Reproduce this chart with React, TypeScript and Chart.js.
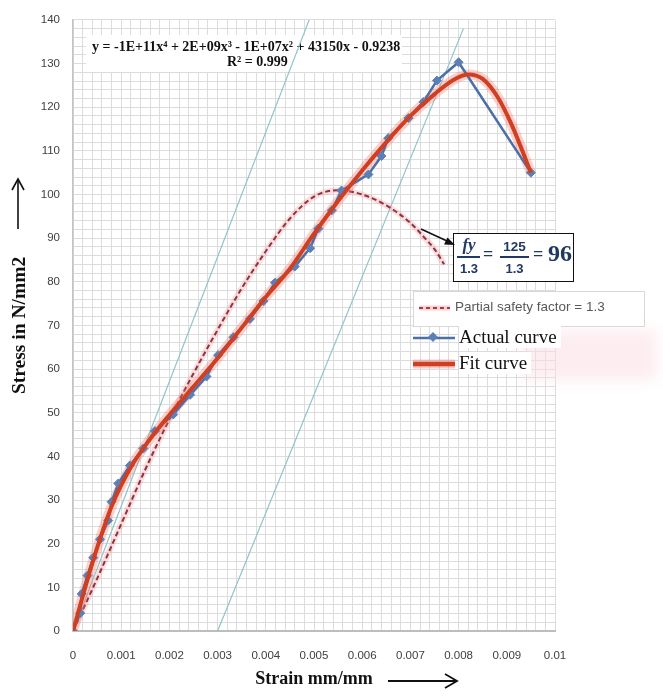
import React, { useEffect, useRef } from 'react';
import { Chart, registerables } from 'chart.js';

Chart.register(...registerables);

// ---- data ----
const actualStrain = [0, 0.00015, 0.00018, 0.0003, 0.00042, 0.00056, 0.00073, 0.0008, 0.00094, 0.00118, 0.00146, 0.0017, 0.00208, 0.00243, 0.00277, 0.00301, 0.00333, 0.00367, 0.00395, 0.00419, 0.0046, 0.00492, 0.00509, 0.00537, 0.00557, 0.00613, 0.0064, 0.00654, 0.00696, 0.00727, 0.00755, 0.008, 0.0095];
const actualStress = [0, 4.1, 8.5, 12.7, 16.8, 21, 25.3, 29.6, 33.8, 37.9, 41.8, 45.8, 49.6, 54.1, 58.3, 63.2, 67.3, 71.5, 75.6, 79.8, 83.5, 87.7, 92.2, 96.4, 100.9, 104.6, 108.8, 112.9, 117.5, 121.2, 126.1, 130.3, 105];

const fitStrain = [0, 0.0004, 0.0008, 0.0012, 0.0016, 0.002, 0.0025, 0.003, 0.0035, 0.004, 0.0045, 0.005, 0.0055, 0.006, 0.0065, 0.007, 0.0075, 0.0079, 0.0082, 0.0085, 0.0088, 0.0091, 0.0095];
const fitStress = [0, 15.5, 28.5, 37.5, 44, 49.5, 56, 62.5, 69.5, 76.5, 83, 91, 98.5, 105.5, 112, 118, 123, 126.3, 127.5, 126.5, 122.5, 116, 105];

const safetyStrain = [0, 0.0005, 0.001, 0.0015, 0.002, 0.0025, 0.003, 0.0035, 0.004, 0.0045, 0.005, 0.0055, 0.006, 0.0065, 0.007, 0.0073, 0.0075, 0.0077];
const safetyStress = [0, 12, 24.5, 37, 48.5, 59, 69, 78.5, 87, 94.5, 99.5, 101, 100, 97.5, 93.5, 90, 87.5, 84];

const offsetLeftStrain = [0, 0.0049];
const offsetLeftStress = [0, 140];
const offsetRightStrain = [0.003, 0.0081];
const offsetRightStress = [0, 138];

const xMin = 0, xMax = 0.01, xMinorStep = 0.0002, xMajorEvery = 5;
const yMin = 0, yMax = 140, yMinorStep = 2, yMajorEvery = 5;

const equationText = 'y = -1E+11x\u2074 + 2E+09x\u00B3 - 1E+07x\u00B2 + 43150x - 0.9238';
const r2Text = 'R\u00B2 = 0.999';

const pts = (xs: number[], ys: number[]) => xs.map((x, i) => ({ x, y: ys[i] }));

const SERIF = '"Liberation Serif", "Times New Roman", serif';
const SANS = '"Liberation Sans", Arial, sans-serif';

const equationPlugin = {
  id: 'equationLabel',
  beforeDatasetsDraw(chart: any) {
    const ctx = chart.ctx;
    ctx.save();
    ctx.fillStyle = '#ffffff';
    ctx.fillRect(86, 35, 316, 37);
    ctx.fillStyle = '#111111';
    ctx.font = `bold 14px ${SERIF}`;
    ctx.textBaseline = 'middle';
    ctx.textAlign = 'left';
    ctx.fillText(equationText, 92, 47);
    ctx.fillText(r2Text, 227, 62);
    ctx.restore();
  },
};

export default function App() {
  const canvasRef = useRef<HTMLCanvasElement | null>(null);

  useEffect(() => {
    if (!canvasRef.current) return;
    const chart = new Chart(canvasRef.current, {
      type: 'scatter',
      data: {
        datasets: [
          {
            label: 'Fit curve',
            data: pts(fitStrain, fitStress),
            showLine: true,
            borderColor: '#cf3f22',
            borderWidth: 4,
            pointRadius: 0,
            cubicInterpolationMode: 'monotone',
          },
          {
            label: 'Actual curve',
            data: pts(actualStrain, actualStress),
            showLine: true,
            borderColor: '#4b6fa6',
            borderWidth: 2.5,
            pointStyle: 'rectRot',
            pointRadius: 4.5,
            pointBackgroundColor: '#5b80b8',
            pointBorderColor: '#5b80b8',
            pointBorderWidth: 1,
          },
          {
            label: 'fit glow',
            data: pts(fitStrain, fitStress),
            showLine: true,
            borderColor: 'rgba(245,120,110,0.35)',
            borderWidth: 10,
            pointRadius: 0,
            cubicInterpolationMode: 'monotone',
          },
          {
            label: 'Partial safety factor = 1.3',
            data: pts(safetyStrain, safetyStress),
            showLine: true,
            borderColor: '#8e3343',
            borderWidth: 2,
            borderDash: [5, 3],
            pointRadius: 0,
            cubicInterpolationMode: 'monotone',
          },
          {
            label: 'safety glow',
            data: pts(safetyStrain, safetyStress),
            showLine: true,
            borderColor: 'rgba(250,150,150,0.3)',
            borderWidth: 6,
            pointRadius: 0,
            cubicInterpolationMode: 'monotone',
          },
          {
            label: 'offset 1',
            data: pts(offsetLeftStrain, offsetLeftStress),
            showLine: true,
            borderColor: '#8fc3cb',
            borderWidth: 1.2,
            pointRadius: 0,
          },
          {
            label: 'offset 2',
            data: pts(offsetRightStrain, offsetRightStress),
            showLine: true,
            borderColor: '#8fc3cb',
            borderWidth: 1.2,
            pointRadius: 0,
          },
        ],
      },
      options: {
        animation: false,
        responsive: false,
        devicePixelRatio: 1,
        layout: { padding: { top: 12, right: 108, left: 0, bottom: 0 } },
        plugins: { legend: { display: false }, tooltip: { enabled: false } },
        scales: {
          x: {
            type: 'linear',
            min: xMin,
            max: xMax,
            afterFit: (s: any) => { s.height = 65; },
            ticks: {
              stepSize: xMinorStep,
              autoSkip: false,
              maxRotation: 0,
              padding: 18,
              color: '#404040',
              font: { family: SANS, size: 11.5 },
              callback: (v: any) => {
                const k = Math.round(Number(v) / xMinorStep);
                return k % xMajorEvery === 0 ? String(+(k * xMinorStep).toFixed(3)) : '';
              },
            },
            grid: { color: '#dcdcdc', lineWidth: 1, drawTicks: false },
            border: { display: true, color: '#bdbdbd', width: 2 },
            title: {
              display: true,
              text: 'Strain mm/mm',
              color: '#111',
              font: { family: SERIF, size: 18, weight: 'bold' },
              padding: { top: 0, bottom: 6 },
            },
          },
          y: {
            type: 'linear',
            min: yMin,
            max: yMax,
            afterFit: (s: any) => { s.width = 73; },
            ticks: {
              stepSize: yMinorStep,
              autoSkip: false,
              padding: 13,
              color: '#404040',
              font: { family: SANS, size: 11.5 },
              callback: (v: any) => {
                const k = Math.round(Number(v) / yMinorStep);
                return k % yMajorEvery === 0 ? String(k * yMinorStep) : '';
              },
            },
            grid: { color: '#dcdcdc', lineWidth: 1, drawTicks: false },
            border: { display: true, color: '#c4c4c4', width: 1.5 },
            title: {
              display: true,
              text: 'Stress in N/mm2',
              color: '#111',
              font: { family: SERIF, size: 19.5, weight: 'bold' },
              padding: { top: 8, bottom: 0 },
            },
          },
        },
      } as any,
      plugins: [equationPlugin],
    });
    return () => chart.destroy();
  }, []);

  const navy = '#1f3864';
  const abs = (l: number, t: number, extra: any = {}) => ({ position: 'absolute' as const, left: l, top: t, ...extra });

  return (
    <div style={{ position: 'absolute', left: 0, top: 0, width: 663, height: 696, background: '#fff', overflow: 'hidden' }}>
      <canvas ref={canvasRef} width={663} height={696} style={{ position: 'absolute', left: 0, top: 0, width: 663, height: 696 }} />

      {/* faint pink smudge */}
      <div style={abs(522, 330, { width: 135, height: 50, background: 'rgba(252,222,228,0.55)', filter: 'blur(7px)' })} />

      {/* formula box */}
      <div style={abs(453, 233, { width: 121, height: 49, background: '#fff', border: '1.5px solid #111', boxSizing: 'border-box' })} />
      <div style={abs(457, 235, { width: 24, textAlign: 'center', color: navy, font: `italic bold 17px ${SERIF}` })}>fy</div>
      <div style={abs(457, 256, { width: 23, height: 1.6, background: navy })} />
      <div style={abs(457, 261, { width: 24, textAlign: 'center', color: navy, font: `bold 13px ${SANS}` })}>1.3</div>
      <div style={abs(483, 244, { color: navy, font: `bold 18px ${SERIF}` })}>=</div>
      <div style={abs(499, 239, { width: 31, textAlign: 'center', color: navy, font: `bold 13.5px ${SANS}` })}>125</div>
      <div style={abs(500, 256, { width: 29, height: 1.6, background: navy })} />
      <div style={abs(499, 261, { width: 31, textAlign: 'center', color: navy, font: `bold 13px ${SANS}` })}>1.3</div>
      <div style={abs(533, 244, { color: navy, font: `bold 18px ${SERIF}` })}>=</div>
      <div style={abs(548, 240, { color: navy, font: `bold 24px ${SERIF}` })}>96</div>

      {/* legend */}
      <div style={abs(413, 291, { width: 232, height: 36, background: '#fff', border: '1px solid #d8d8d8', boxSizing: 'border-box' })} />
      <div style={abs(455, 299, { color: '#595959', font: `13.5px ${SANS}`, whiteSpace: 'nowrap' })}>Partial safety factor = 1.3</div>
      <div style={abs(459, 326, { color: '#111', font: `19px ${SERIF}`, whiteSpace: 'nowrap', background: '#fff', paddingRight: 4 })}>Actual curve</div>
      <div style={abs(459, 352, { color: '#111', font: `19px ${SERIF}`, whiteSpace: 'nowrap', background: '#fff', paddingRight: 4 })}>Fit curve</div>

      <svg width={663} height={696} style={{ position: 'absolute', left: 0, top: 0, pointerEvents: 'none' }}>
        {/* legend samples */}
        <line x1={419} y1={308} x2={450} y2={308} stroke="rgba(250,150,150,0.45)" strokeWidth={5} />
        <line x1={419} y1={308} x2={450} y2={308} stroke="#9a4050" strokeWidth={2} strokeDasharray="4 3" />
        <line x1={413} y1={338} x2={455} y2={338} stroke="#4b6fa6" strokeWidth={2.5} />
        <rect x={429.5} y={333.5} width={7} height={7} fill="#5b80b8" transform="rotate(45 433 337)" />
        <line x1={413} y1={364} x2={455} y2={364} stroke="rgba(245,120,110,0.4)" strokeWidth={9} />
        <line x1={413} y1={364} x2={455} y2={364} stroke="#cf3f22" strokeWidth={4.5} />

        {/* arrow to formula */}
        <line x1={421} y1={229} x2={447} y2={241} stroke="#111" strokeWidth={1.5} />
        <polygon points="455,245 444,244.5 447.5,237.5" fill="#111" />

        {/* axis arrows */}
        <line x1={18} y1={229} x2={18} y2={180} stroke="#111" strokeWidth={1.6} />
        <polyline points="12,190 18,179 24,190" fill="none" stroke="#111" strokeWidth={1.6} />
        <line x1={388} y1={681} x2={456} y2={681} stroke="#111" strokeWidth={1.8} />
        <polyline points="445,674 457,681 445,688" fill="none" stroke="#111" strokeWidth={1.8} />
      </svg>
    </div>
  );
}
